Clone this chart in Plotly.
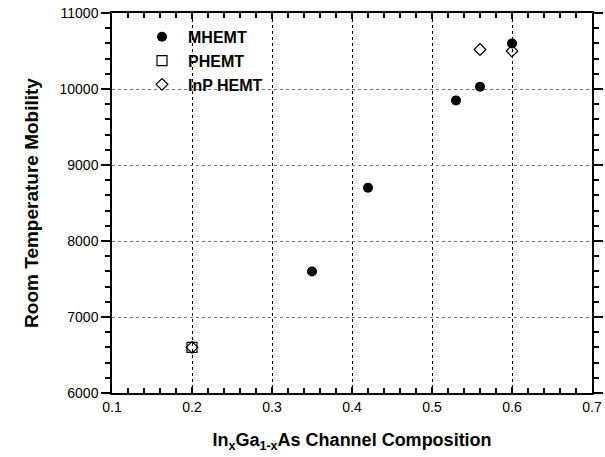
import plotly.graph_objects as go

mhemt_x = [0.35, 0.42, 0.53, 0.56, 0.60]
mhemt_y = [7600, 8700, 9850, 10030, 10600]
phemt_x = [0.2]
phemt_y = [6600]
inp_x = [0.2, 0.56, 0.60]
inp_y = [6600, 10520, 10500]

fig = go.Figure()
fig.add_trace(go.Scatter(x=mhemt_x, y=mhemt_y, mode="markers", name="MHEMT",
                         marker=dict(symbol="circle", size=10, color="black")))
fig.add_trace(go.Scatter(x=phemt_x, y=phemt_y, mode="markers", name="PHEMT",
                         marker=dict(symbol="square-open", size=10, color="black", line=dict(width=1.2))))
fig.add_trace(go.Scatter(x=inp_x, y=inp_y, mode="markers", name="InP HEMT",
                         marker=dict(symbol="diamond-open", size=9, color="black", line=dict(width=1.2))))
# invisible trace carrying the fine-tick axes
fig.add_trace(go.Scatter(x=mhemt_x, y=mhemt_y, mode="markers", xaxis="x2", yaxis="y2",
                         marker=dict(opacity=0), showlegend=False, hoverinfo="skip"))

font = "Liberation Sans, Arial, sans-serif"
xr = [0.1, 0.7]
yr = [6000, 11000]
fig.update_layout(
    template="none",
    width=605, height=457,
    margin=dict(l=112, r=13, t=13, b=64),
    paper_bgcolor="white", plot_bgcolor="white",
    font=dict(family=font, size=14, color="black"),
    showlegend=True,
    legend=dict(x=0.05, y=0.982, xanchor="left", yanchor="top",
                bgcolor="rgba(0,0,0,0)", font=dict(size=16, family=font, weight="bold"),
                tracegroupgap=0, itemsizing="trace", itemwidth=42),
    xaxis=dict(range=xr, tickmode="linear", dtick=0.1, tick0=0.1, tickformat=".1f",
               showline=True, linecolor="black", linewidth=1.5, mirror="ticks",
               ticks="inside", ticklen=6, tickwidth=1.5, tickcolor="black",
               showgrid=True, gridcolor="black", griddash="3px,3px", gridwidth=1,
               zeroline=False,
               title=dict(text="<b>In<sub>x</sub>Ga<sub>1-x</sub>As Channel Composition</b>",
                          font=dict(size=18, family=font), standoff=20)),
    yaxis=dict(range=yr, tickmode="linear", tick0=6000, dtick=1000, tickformat="d",
               showline=True, linecolor="black", linewidth=1.5, mirror="ticks",
               ticks="outside", ticklen=9, tickwidth=1.5, tickcolor="black",
               showgrid=True, gridcolor="#777777", griddash="3px,3px", gridwidth=1,
               zeroline=False,
               title=dict(text="<b>Room Temperature Mobility</b>",
                          font=dict(size=19, family=font), standoff=16)),
    xaxis2=dict(range=xr, overlaying="x", side="bottom", anchor="y2", showticklabels=False,
                tickmode="linear", dtick=0.02, tick0=0.1,
                ticks="inside", ticklen=5, tickwidth=1.5, tickcolor="black",
                showline=True, linecolor="black", linewidth=1.5, mirror="ticks",
                showgrid=False, zeroline=False),
    yaxis2=dict(range=yr, overlaying="y", side="left", anchor="x2", showticklabels=False,
                tickmode="linear", tick0=6000, dtick=200,
                ticks="outside", ticklen=5, tickwidth=1.5, tickcolor="black",
                showline=True, linecolor="black", linewidth=1.5, mirror="ticks",
                showgrid=False, zeroline=False),
)
fig.write_html("out.html")
